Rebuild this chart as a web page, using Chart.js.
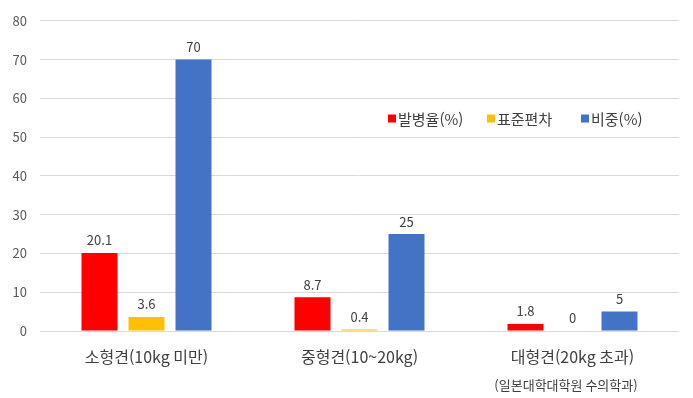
<!DOCTYPE html>
<html lang="ko">
<head>
  <meta charset="UTF-8">
  <title>견종 크기별 발병율</title>
  <script src="https://cdn.jsdelivr.net/npm/chart.js"></script>
  <style>
    html, body { margin: 0; padding: 0; background: #fff; }
    #wrap { width: 693px; height: 398px; position: relative; }
  </style>
</head>
<body>
  <div id="wrap"><canvas id="sizeChart" width="693" height="398"></canvas></div>

  <script>
    const categories = ['소형견(10kg 미만)', '중형견(10~20kg)', '대형견(20kg 초과)'];
    const seriesNames = ['발병율(%)', '표준편차', '비중(%)'];
    const incidence = [20.1, 8.7, 1.8];
    const stdDev = [3.6, 0.4, 0];
    const share = [70, 25, 5];
    const yTicks = [0, 10, 20, 30, 40, 50, 60, 70, 80];
    const colors = ['#FF0000', '#FFC000', '#4472C4'];
    const sourceNote = '(일본대학대학원 수의학과)';

    const FONT = "'Noto Sans CJK KR', 'Noto Sans', sans-serif";

    // value labels over each bar
    const valueLabels = {
      id: 'valueLabels',
      afterDatasetsDraw(chart) {
        const ctx = chart.ctx;
        ctx.save();
        ctx.font = '13px ' + FONT;
        ctx.fillStyle = '#404040';
        ctx.textAlign = 'center';
        ctx.textBaseline = 'bottom';
        chart.data.datasets.forEach((ds, i) => {
          chart.getDatasetMeta(i).data.forEach((bar, j) => {
            ctx.fillText(String(ds.data[j]), bar.x, bar.y - 6);
          });
        });
        ctx.restore();
      }
    };

    // legend inside plot + source note
    const innerLegend = {
      id: 'innerLegend',
      afterDraw(chart) {
        const ctx = chart.ctx;
        const y = chart.scales.y.getPixelForValue(54.8);
        const xs = [388, 487, 581];
        ctx.save();
        ctx.font = '15px ' + FONT;
        ctx.textBaseline = 'middle';
        ctx.textAlign = 'left';
        chart.data.datasets.forEach((ds, i) => {
          ctx.fillStyle = ds.backgroundColor;
          ctx.fillRect(xs[i], y - 4, 8, 8);
          ctx.fillStyle = '#404040';
          ctx.fillText(ds.label, xs[i] + 10, y + 1);
        });
        ctx.font = '13px ' + FONT;
        ctx.textAlign = 'center';
        ctx.fillStyle = '#404040';
        ctx.fillText(sourceNote, 566, 385);
        ctx.restore();
      }
    };

    const ctx = document.getElementById('sizeChart').getContext('2d');
    new Chart(ctx, {
      type: 'bar',
      data: {
        labels: categories,
        datasets: [
          { label: seriesNames[0], data: incidence, backgroundColor: colors[0] },
          { label: seriesNames[1], data: stdDev, backgroundColor: colors[1] },
          { label: seriesNames[2], data: share, backgroundColor: colors[2] }
        ]
      },
      options: {
        responsive: false,
        animation: false,
        categoryPercentage: 0.662,
        barPercentage: 0.766,
        layout: { padding: { top: 18, right: 14, left: 0, bottom: 0 } },
        plugins: {
          legend: { display: false },
          tooltip: { enabled: false }
        },
        scales: {
          x: {
            grid: { display: false },
            border: { display: false },
            ticks: { color: '#404040', font: { family: FONT, size: 16 }, padding: 8, maxRotation: 0 },
            afterFit(scale) { scale.height = 67; }
          },
          y: {
            min: 0,
            max: 80,
            afterBuildTicks(scale) { scale.ticks = yTicks.map(v => ({ value: v })); },
            grid: { color: '#D9D9D9', drawTicks: false },
            border: { display: false },
            ticks: { color: '#595959', font: { family: FONT, size: 13 }, padding: 13 },
            afterFit(scale) { scale.width = 40; }
          }
        }
      },
      plugins: [valueLabels, innerLegend]
    });
  </script>
</body>
</html>
